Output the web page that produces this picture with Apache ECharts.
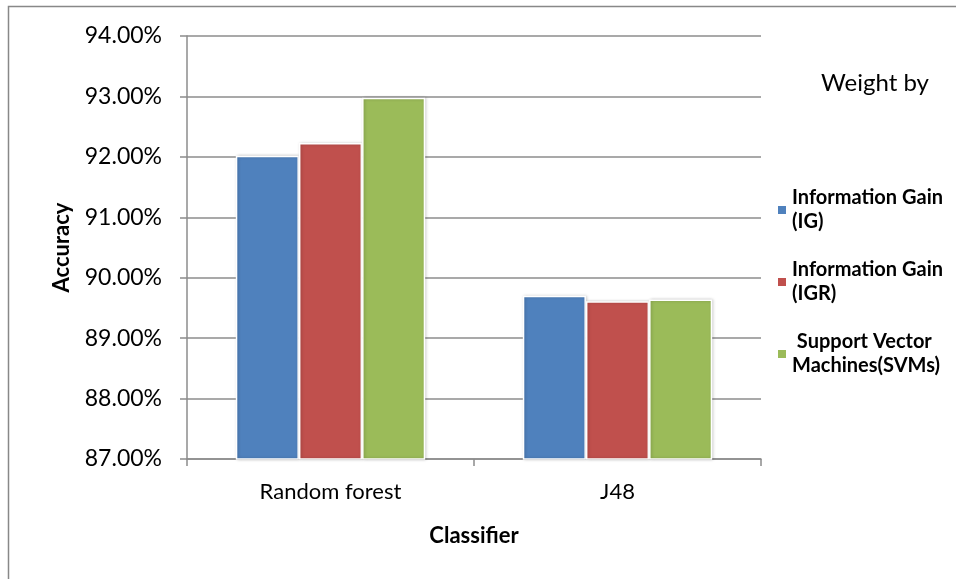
<!DOCTYPE html>
<html>
<head>
<meta charset="utf-8">
<script src="https://cdn.jsdelivr.net/npm/echarts@6/dist/echarts.min.js"></script>
<style>
  html, body { margin: 0; padding: 0; background: #fff; }
  #chart { width: 956px; height: 579px; }
</style>
</head>
<body>
<div id="chart"></div>
<script>
// Classifier accuracy (%) for each feature-weighting method
const classifiers = ['Random forest', 'J48'];
const seriesNames = ['Information Gain\n(IG)', 'Information Gain\n(IGR)', ' Support Vector\nMachines(SVMs)'];
const igValues = [92.02, 89.70];
const igrValues = [92.23, 89.61];
const svmValues = [92.98, 89.64];
const yTicks = { min: 87, max: 94, step: 1 };

const colors = ['#4F81BD', '#C0504D', '#9BBB59'];
const FONT = 'Lato, "Open Sans", sans-serif';
const LINE = 24;

const chart = echarts.init(document.getElementById('chart'), null, { renderer: 'canvas' });

function barSeries(name, values, color) {
  return {
    name: name,
    type: 'bar',
    data: values,
    barGap: '0%',
    barCategoryGap: '34%',
    itemStyle: {
      color: color,
      borderColor: '#ffffff',
      borderWidth: 1.5,
      shadowColor: 'rgba(0,0,0,0.22)',
      shadowBlur: 3,
      shadowOffsetX: 1,
      shadowOffsetY: 0
    },
    emphasis: { disabled: true },
    animation: false
  };
}

chart.setOption({
  backgroundColor: '#ffffff',
  animation: false,
  color: colors,
  title: {
    text: 'Weight by',
    left: 821,
    top: 71,
    padding: 0,
    textStyle: { fontFamily: FONT, fontSize: 24, fontWeight: 'normal', color: '#000' }
  },
  legend: {
    orient: 'vertical',
    left: 776,
    top: 174,
    padding: 0,
    itemWidth: 10,
    itemHeight: 10,
    itemGap: 0,
    icon: 'rect',
    selectedMode: false,
    textStyle: {
      fontFamily: FONT,
      fontSize: 20,
      fontWeight: 'bold',
      color: '#000',
      lineHeight: LINE,
      padding: [LINE, 0, 0, 0]
    },
    data: seriesNames
  },
  grid: { left: 187, right: 195, top: 36, bottom: 120 },
  xAxis: {
    type: 'category',
    data: classifiers,
    name: 'Classifier',
    nameLocation: 'middle',
    nameGap: 66,
    nameTextStyle: { fontFamily: FONT, fontSize: 22, fontWeight: 'bold', color: '#000' },
    axisLine: { lineStyle: { color: '#8c8c8c', width: 1.5 } },
    axisTick: { show: true, length: 7, lineStyle: { color: '#8c8c8c', width: 1.5 } },
    axisLabel: { fontFamily: FONT, fontSize: 22, color: '#000', margin: 22 }
  },
  yAxis: {
    type: 'value',
    min: yTicks.min,
    max: yTicks.max,
    interval: yTicks.step,
    name: 'Accuracy',
    nameLocation: 'middle',
    nameGap: 114,
    nameTextStyle: { fontFamily: FONT, fontSize: 22, fontWeight: 'bold', color: '#000' },
    axisLine: { show: true, lineStyle: { color: '#8c8c8c', width: 1.5 } },
    axisTick: { show: true, length: 7, lineStyle: { color: '#8c8c8c', width: 1.5 } },
    splitLine: { lineStyle: { color: '#8c8c8c', width: 1.5 } },
    axisLabel: {
      fontFamily: FONT,
      fontSize: 23,
      color: '#000',
      margin: 25,
      formatter: v => v.toFixed(2) + '%'
    }
  },
  series: [
    barSeries(seriesNames[0], igValues, colors[0]),
    barSeries(seriesNames[1], igrValues, colors[1]),
    barSeries(seriesNames[2], svmValues, colors[2])
  ],
  graphic: [
    {
      type: 'polyline',
      silent: true,
      shape: { points: [[8.5, 579], [8.5, 6.5], [956, 6.5]] },
      style: { stroke: '#888888', lineWidth: 1.5, fill: null }
    }
  ]
});
</script>
</body>
</html>
